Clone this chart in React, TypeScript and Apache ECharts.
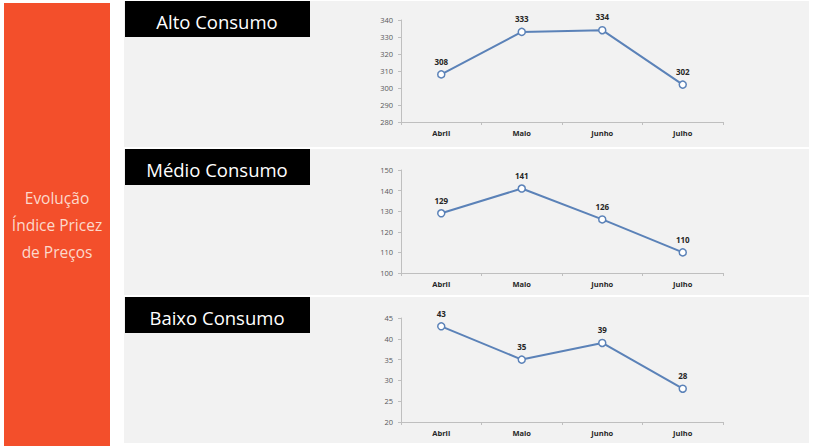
import React, { useEffect, useRef } from "react";
import * as echarts from "echarts";

const months = ["Abril", "Maio", "Junho", "Julho"];
const altoValues = [308, 333, 334, 302];
const medioValues = [129, 141, 126, 110];
const baixoValues = [43, 35, 39, 28];
const panelTitles = ["Alto Consumo", "Médio Consumo", "Baixo Consumo"];
const sideTitle = "Evolução\nÍndice Pricez\nde Preços";
const yRanges = [
  { min: 280, max: 340, interval: 10 },
  { min: 100, max: 150, interval: 10 },
  { min: 20, max: 45, interval: 5 },
];

const FONT = "'Open Sans', 'Noto Sans', sans-serif";

export default function App() {
  const ref = useRef<HTMLDivElement>(null);
  useEffect(() => {
    if (!ref.current) return;
    const chart = echarts.init(ref.current, undefined, { renderer: "svg" });
    const series = [altoValues, medioValues, baixoValues];
    const panels = [
      { y: 1, h: 146, gridTop: 20, gridH: 102 },
      { y: 149, h: 146, gridTop: 170, gridH: 103 },
      { y: 297, h: 146, gridTop: 318, gridH: 104 },
    ];
    const graphic: any[] = [
      {
        type: "rect",
        z: -10,
        shape: { x: 4, y: 3, width: 106, height: 443 },
        style: { fill: "#F34F2B" },
      },
      {
        type: "text",
        z: 10,
        x: 57,
        y: 225,
        style: {
          text: sideTitle,
          fill: "#FCD9CC",
          font: `15.5px ${FONT}`,
          align: "center",
          verticalAlign: "middle",
          lineHeight: 27,
        },
      },
    ];
    panels.forEach((p, i) => {
      graphic.push({
        type: "rect",
        z: -10,
        shape: { x: 124, y: p.y, width: 685, height: p.h },
        style: { fill: "#F2F2F2" },
      });
      graphic.push({
        type: "rect",
        z: -9,
        shape: { x: 125, y: p.y, width: 185, height: 36 },
        style: { fill: "#000000" },
      });
      graphic.push({
        type: "text",
        z: 10,
        x: 217,
        y: p.y + 20,
        style: {
          text: panelTitles[i],
          fill: "#FFFFFF",
          font: `18.5px ${FONT}`,
          align: "center",
          verticalAlign: "middle",
        },
      });
    });
    chart.setOption({
      animation: false,
      graphic,
      grid: panels.map((p) => ({
        left: 401,
        right: 92,
        top: p.gridTop,
        height: p.gridH,
        containLabel: false,
      })),
      xAxis: panels.map((_, i) => ({
        type: "category",
        gridIndex: i,
        data: months,
        boundaryGap: true,
        axisLine: { lineStyle: { color: "#BFBFBF", width: 1 } },
        axisTick: { show: true, length: 3, lineStyle: { color: "#BFBFBF" } },
        axisLabel: {
          fontSize: 7.5,
          fontWeight: "bold",
          color: "#262626",
          fontFamily: FONT,
          margin: 7,
        },
      })),
      yAxis: panels.map((_, i) => ({
        type: "value",
        gridIndex: i,
        min: yRanges[i].min,
        max: yRanges[i].max,
        interval: yRanges[i].interval,
        axisLine: { show: true, lineStyle: { color: "#BFBFBF", width: 1 } },
        axisTick: { show: true, length: 3, lineStyle: { color: "#BFBFBF" } },
        splitLine: { show: false },
        axisLabel: {
          fontSize: 7.5,
          color: "#595959",
          fontFamily: FONT,
          margin: 8,
        },
      })),
      series: series.map((d, i) => ({
        type: "line",
        xAxisIndex: i,
        yAxisIndex: i,
        data: d,
        symbol: "circle",
        symbolSize: 7,
        lineStyle: { color: "#5B82B8", width: 2 },
        itemStyle: { color: "#FFFFFF", borderColor: "#5B82B8", borderWidth: 1.5 },
        label: {
          show: true,
          position: "top",
          distance: 5,
          fontSize: 8,
          fontWeight: "bold",
          color: "#262626",
          fontFamily: FONT,
        },
      })),
    });
    return () => chart.dispose();
  }, []);
  return (
    <div
      ref={ref}
      style={{ position: "fixed", left: 0, top: 0, width: 815, height: 448, background: "#FFFFFF" }}
    />
  );
}
